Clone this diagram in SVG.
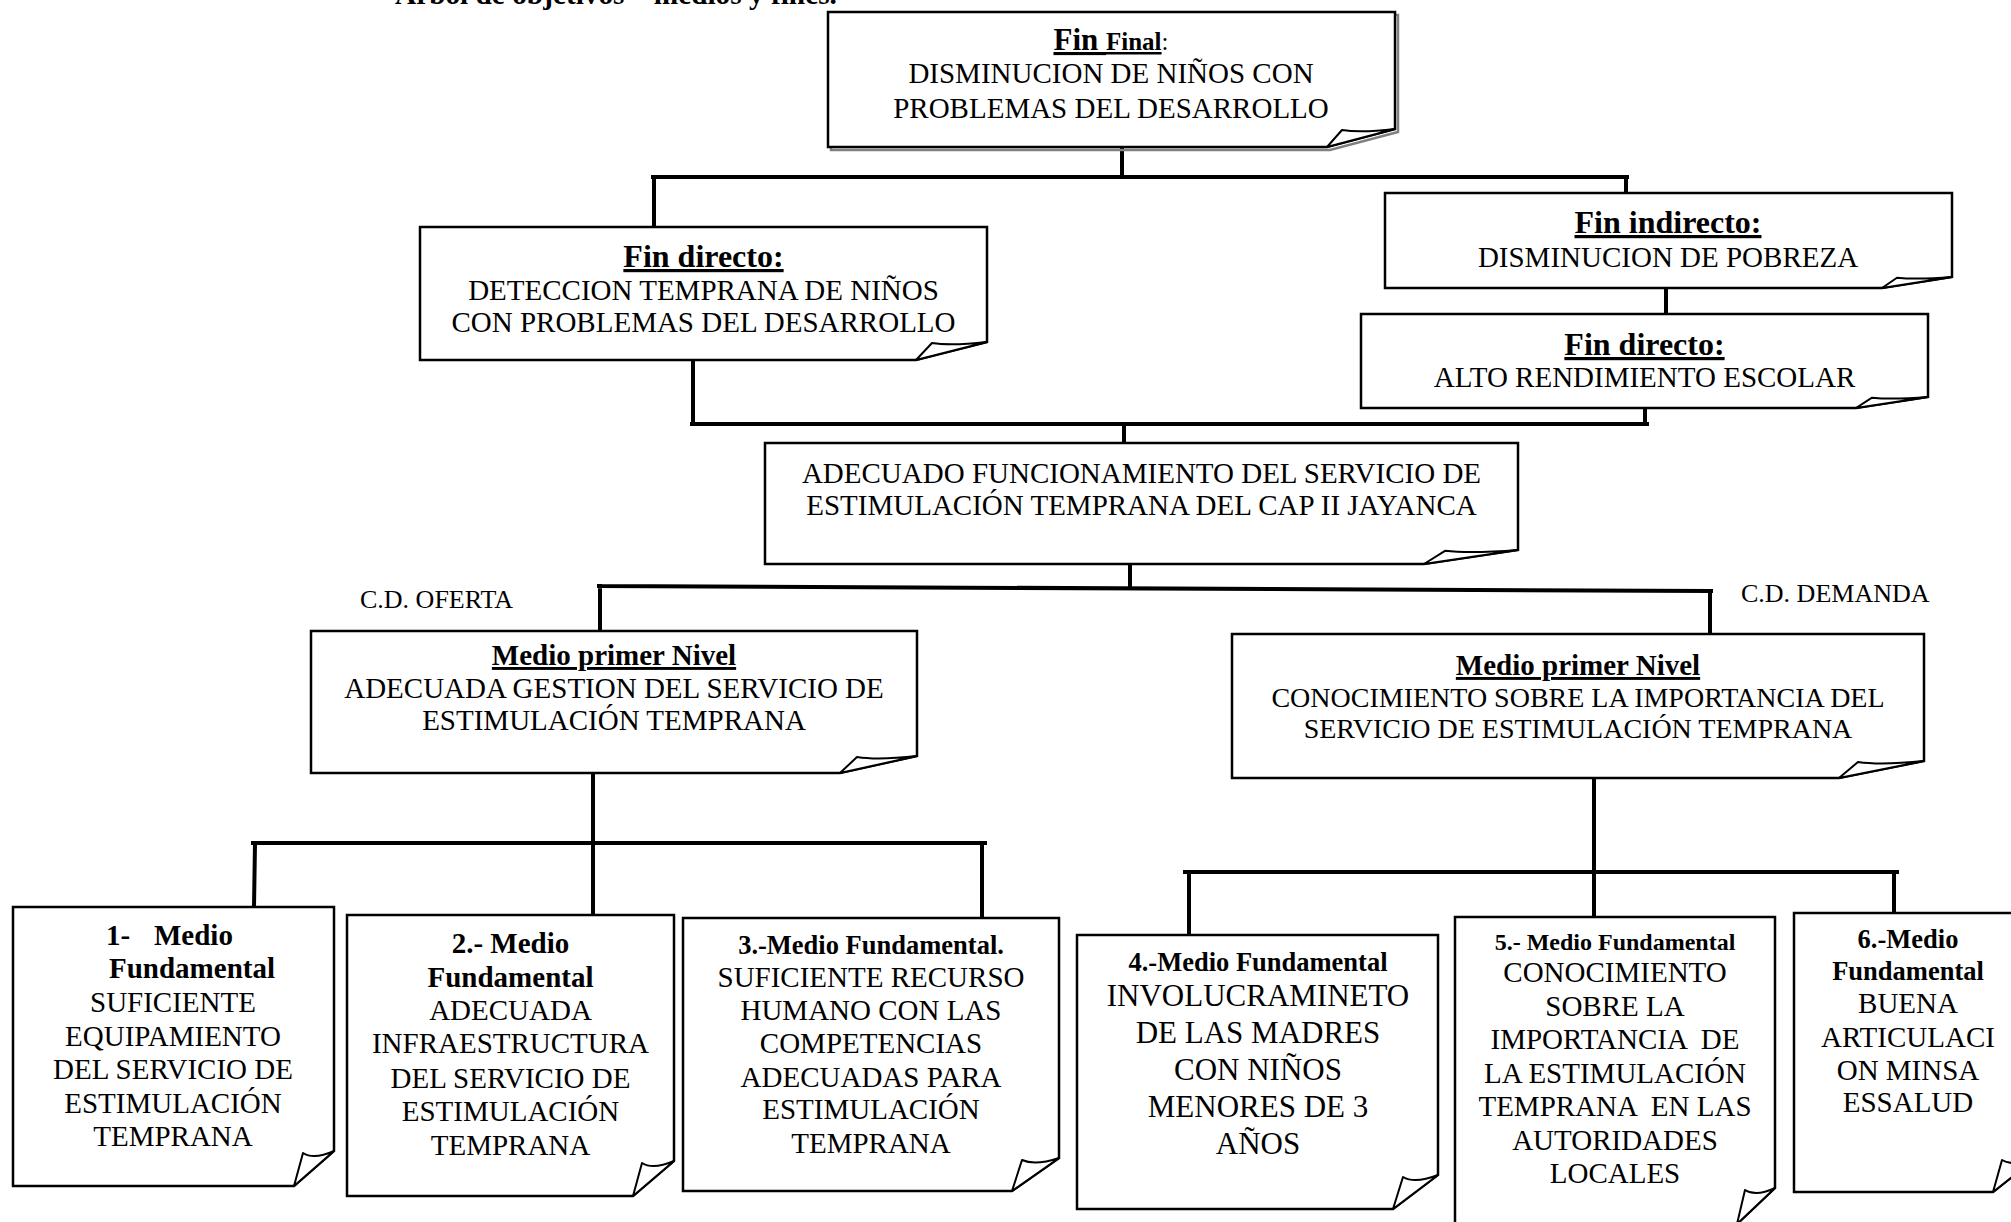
<svg xmlns="http://www.w3.org/2000/svg" width="2011" height="1222" viewBox="0 0 2011 1222">
<style>
  text { font-family: "Liberation Serif", "Times New Roman", serif; fill: #000; }
  .t { font-size: 29px; text-anchor: middle; }
  .t28 { font-size: 28px; text-anchor: middle; }
  .t31 { font-size: 31px; text-anchor: middle; }
  .h32 { font-size: 32px; font-weight: bold; text-anchor: middle; text-decoration: underline; }
  .h29u { font-size: 29px; font-weight: bold; text-anchor: middle; text-decoration: underline; }
  .b29 { font-size: 29px; font-weight: bold; }
  .b26 { font-size: 26.5px; font-weight: bold; text-anchor: middle; }
  .b24 { font-size: 24px; font-weight: bold; text-anchor: middle; }
  .lbl { font-size: 26px; }
  .box { fill: #fff; stroke: #000; stroke-width: 2.5; stroke-linejoin: miter; }
  .fold { fill: #fff; stroke: #000; stroke-width: 2; stroke-linejoin: round; }
  .con { fill: none; stroke: #000; stroke-width: 4; stroke-linecap: square; }
</style>

<text x="395" y="4" style="font-size:29.3px;font-weight:bold">Arbol de objetivos – medios y fines.</text>

<g id="connectors">
  <path class="con" d="M1122,149 V177 M653,177 H1627 M654,177 V227 M1626,177 V193"/>
  <path class="con" d="M1666,288 V314"/>
  <path class="con" d="M693,360 V424 M1645,408 V424 M692,424 H1647 M1124,424 V443"/>
  <path class="con" d="M1130,564 V588 M599,586 L1711,591 M600,586 V631 M1710,591 V634"/>
  <path class="con" d="M593,773 V915 M253,843 H985 M255,843 L254,907 M982,843 V918"/>
  <path class="con" d="M1594,778 V917 M1185,872 H1897 M1189,872 V935 M1894,872 V913"/>
</g>

<g id="fin-final">
  <path d="M831,15 H1398 V132 L1330,150 H831 Z" fill="none" stroke="#808080" stroke-width="2.5"/>
  <path class="box" d="M828,12 H1395 V129 L1327,147 H828 Z"/>
  <path class="fold" d="M1327,147 L1342,130 Q1361,133 1395,129 Z"/>
  <text x="1111" y="50" text-anchor="middle"><tspan style="font-size:31px;font-weight:bold;text-decoration:underline">Fin </tspan><tspan style="font-size:25px;font-weight:bold;text-decoration:underline">Final</tspan><tspan style="font-size:25px">:</tspan></text>
  <text class="t" x="1111" y="83">DISMINUCION DE NIÑOS CON</text>
  <text class="t" x="1111" y="118">PROBLEMAS DEL DESARROLLO</text>
</g>

<g id="fin-directo-1">
  <path class="box" d="M420,227 H987 V342 L916,360 H420 Z"/>
  <path class="fold" d="M916,360 L932,343 Q951,346 987,342 Z"/>
  <text class="h32" x="703.5" y="267">Fin directo:</text>
  <text class="t" x="703.5" y="300">DETECCION TEMPRANA DE NIÑOS</text>
  <text class="t" x="703.5" y="332">CON PROBLEMAS DEL DESARROLLO</text>
</g>

<g id="fin-indirecto">
  <path class="box" d="M1385,193 H1952 V277 L1882,288 H1385 Z"/>
  <path class="fold" d="M1882,288 L1897,277.7 Q1917,279.8 1952,277 Z"/>
  <text class="h32" x="1668" y="233">Fin indirecto:</text>
  <text class="t" x="1668" y="267">DISMINUCION DE POBREZA</text>
</g>

<g id="fin-directo-2">
  <path class="box" d="M1361,314 H1928 V397 L1856,408 H1361 Z"/>
  <path class="fold" d="M1856,408 L1872,397.7 Q1892,399.8 1928,397 Z"/>
  <text class="h32" x="1644.5" y="355">Fin directo:</text>
  <text class="t" x="1644.5" y="387">ALTO RENDIMIENTO ESCOLAR</text>
</g>

<g id="central">
  <path class="box" d="M765,443 H1518 V550 L1424,564 H765 Z"/>
  <path class="fold" d="M1424,564 L1445,550.8 Q1471,553.6 1518,550 Z"/>
  <text class="t" x="1141.5" y="483">ADECUADO FUNCIONAMIENTO DEL SERVICIO DE</text>
  <text class="t" x="1141.5" y="515">ESTIMULACIÓN TEMPRANA DEL CAP II JAYANCA</text>
</g>

<text class="lbl" x="360" y="608">C.D. OFERTA</text>
<text class="lbl" x="1741" y="602">C.D. DEMANDA</text>

<g id="medio-oferta">
  <path class="box" d="M311,631 H917 V756 L840,773 H311 Z"/>
  <path class="fold" d="M840,773 L857,757 Q878,760.4 917,756 Z"/>
  <text class="h29u" x="614" y="665">Medio primer Nivel</text>
  <text class="t" x="614" y="698">ADECUADA GESTION DEL SERVICIO DE</text>
  <text class="t" x="614" y="730">ESTIMULACIÓN TEMPRANA</text>
</g>

<g id="medio-demanda">
  <path class="box" d="M1232,634 H1924 V761 L1839,778 H1232 Z"/>
  <path class="fold" d="M1839,778 L1858,762 Q1881,765.4 1924,761 Z"/>
  <text class="h29u" x="1578" y="675">Medio primer Nivel</text>
  <text class="t28" x="1578" y="707">CONOCIMIENTO SOBRE LA IMPORTANCIA DEL</text>
  <text class="t28" x="1578" y="738">SERVICIO DE ESTIMULACIÓN TEMPRANA</text>
</g>

<g id="medio-fund-1">
  <path class="box" d="M13,907 H334 V1151 L294,1186 H13 Z"/>
  <path class="fold" d="M294,1186 L303,1153 Q314,1160 334,1151 Z"/>
  <text class="b29" x="106" y="945">1-</text>
  <text class="b29" x="154" y="945">Medio</text>
  <text class="b29" x="109" y="978">Fundamental</text>
  <text class="t" x="173" y="1012">SUFICIENTE</text>
  <text class="t" x="173" y="1046">EQUIPAMIENTO</text>
  <text class="t" x="173" y="1079">DEL SERVICIO DE</text>
  <text class="t" x="173" y="1113">ESTIMULACIÓN</text>
  <text class="t" x="173" y="1146">TEMPRANA</text>
</g>

<g id="medio-fund-2">
  <path class="box" d="M347,915 H674 V1161 L633,1196 H347 Z"/>
  <path class="fold" d="M633,1196 L642,1163 Q653,1170 674,1161 Z"/>
  <text class="b29" x="510.5" y="953" text-anchor="middle">2.- Medio</text>
  <text class="b29" x="510.5" y="987" text-anchor="middle">Fundamental</text>
  <text class="t" x="510.5" y="1020">ADECUADA</text>
  <text class="t" x="510.5" y="1053">INFRAESTRUCTURA</text>
  <text class="t" x="510.5" y="1088">DEL SERVICIO DE</text>
  <text class="t" x="510.5" y="1121">ESTIMULACIÓN</text>
  <text class="t" x="510.5" y="1155">TEMPRANA</text>
</g>

<g id="medio-fund-3">
  <path class="box" d="M683,918 H1059 V1158 L1012,1191 H683 Z"/>
  <path class="fold" d="M1012,1191 L1022,1160 Q1035,1166 1059,1158 Z"/>
  <text class="b26" x="871" y="954">3.-Medio Fundamental.</text>
  <text class="t" x="871" y="987">SUFICIENTE RECURSO</text>
  <text class="t" x="871" y="1020">HUMANO CON LAS</text>
  <text class="t" x="871" y="1053">COMPETENCIAS</text>
  <text class="t" x="871" y="1087">ADECUADAS PARA</text>
  <text class="t" x="871" y="1119">ESTIMULACIÓN</text>
  <text class="t" x="871" y="1153">TEMPRANA</text>
</g>

<g id="medio-fund-4">
  <path class="box" d="M1077,935 H1438 V1175 L1393,1209 H1077 Z"/>
  <path class="fold" d="M1393,1209 L1403,1177 Q1415,1184 1438,1175 Z"/>
  <text class="b26" x="1258" y="971">4.-Medio Fundamental</text>
  <text class="t31" x="1258" y="1006">INVOLUCRAMINETO</text>
  <text class="t31" x="1258" y="1043">DE LAS MADRES</text>
  <text class="t31" x="1258" y="1080">CON NIÑOS</text>
  <text class="t31" x="1258" y="1117">MENORES DE 3</text>
  <text class="t31" x="1258" y="1154">AÑOS</text>
</g>

<g id="medio-fund-5">
  <path class="box" d="M1455,917 H1775 V1188 L1737,1224 H1455 Z"/>
  <path class="fold" d="M1737,1224 L1745,1190 Q1756,1197 1775,1188 Z"/>
  <text class="b24" x="1615" y="950">5.- Medio Fundamental</text>
  <text class="t" x="1615" y="982">CONOCIMIENTO</text>
  <text class="t" x="1615" y="1015.5">SOBRE LA</text>
  <text class="t" x="1615" y="1049" xml:space="preserve">IMPORTANCIA  DE</text>
  <text class="t" x="1615" y="1082.5">LA ESTIMULACIÓN</text>
  <text class="t" x="1615" y="1116" xml:space="preserve">TEMPRANA  EN LAS</text>
  <text class="t" x="1615" y="1149.5">AUTORIDADES</text>
  <text class="t" x="1615" y="1183">LOCALES</text>
</g>

<g id="medio-fund-6">
  <path class="box" d="M1794,913 H2036 V1158 L1993,1192 H1794 Z"/>
  <path class="fold" d="M1993,1192 L2002,1160 Q2014,1167 2036,1158 Z"/>
  <text class="b26" x="1908" y="948">6.-Medio</text>
  <text class="b26" x="1908" y="980">Fundamental</text>
  <text class="t" x="1908" y="1013">BUENA</text>
  <text class="t" x="1908" y="1047">ARTICULACI</text>
  <text class="t" x="1908" y="1080">ON MINSA</text>
  <text class="t" x="1908" y="1112">ESSALUD</text>
</g>
</svg>
